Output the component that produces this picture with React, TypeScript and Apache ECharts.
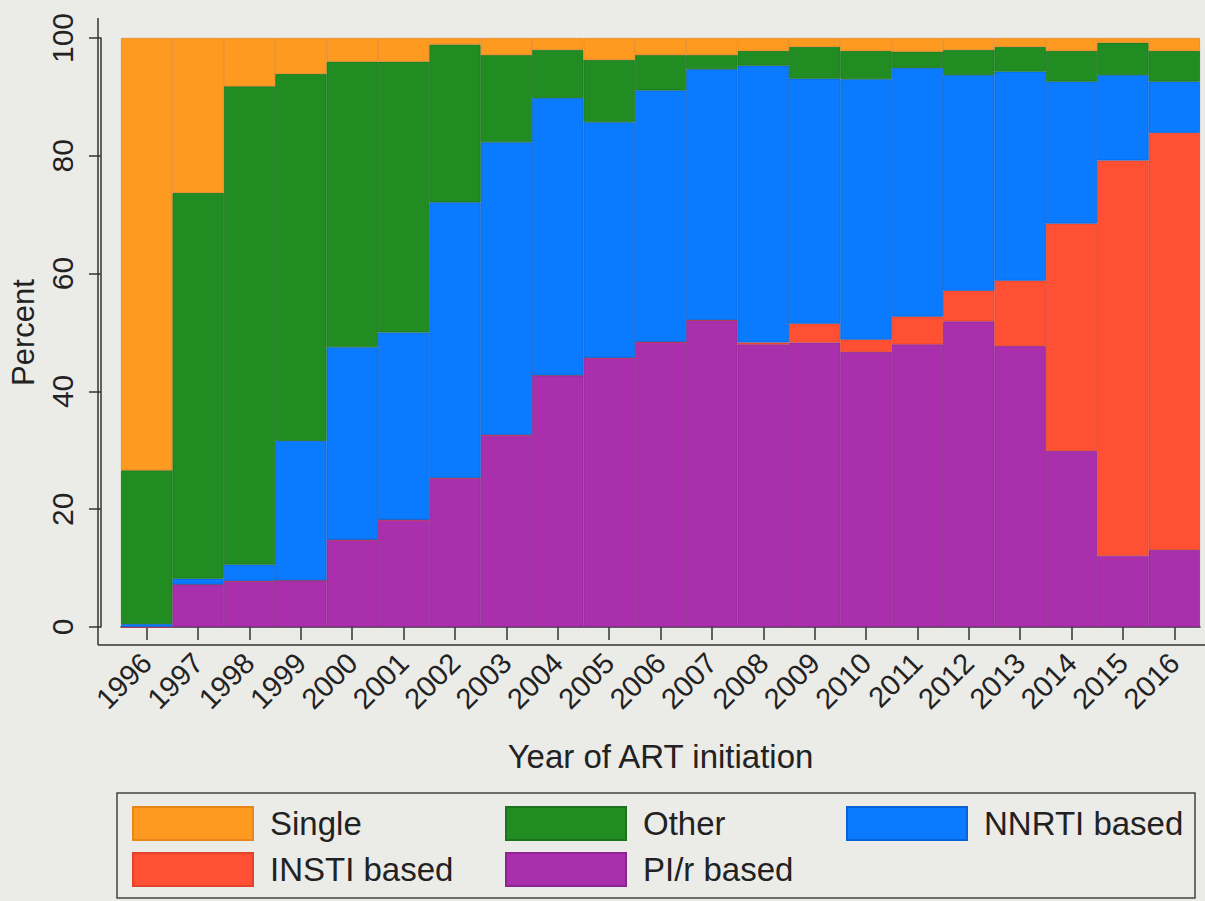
import React, { useEffect, useRef } from "react";
import * as echarts from "echarts";

const years = ["1996", "1997", "1998", "1999", "2000", "2001", "2002", "2003", "2004", "2005", "2006", "2007", "2008", "2009", "2010", "2011", "2012", "2013", "2014", "2015", "2016"];
const yTicks = [0, 20, 40, 60, 80, 100];

const piR = [0, 7.2, 7.8, 7.9, 14.8, 18.2, 25.3, 32.6, 42.7, 45.7, 48.4, 52.1, 48.0, 48.3, 46.7, 48.0, 51.9, 47.7, 29.9, 12.1, 13.1];
const insti = [0, 0, 0, 0, 0, 0, 0, 0, 0, 0, 0, 0, 0.3, 3.2, 2.1, 4.7, 5.2, 11.1, 38.6, 67.1, 70.8];
const nnrti = [0.5, 1.0, 2.8, 23.7, 32.7, 31.8, 46.8, 49.7, 47.1, 40.0, 42.7, 42.6, 47.0, 41.6, 44.2, 42.2, 36.6, 35.5, 24.1, 14.5, 8.7];
const other = [26.1, 65.5, 81.2, 62.3, 48.5, 46.0, 26.8, 14.8, 8.2, 10.6, 6.0, 2.4, 2.5, 5.4, 4.8, 2.8, 4.3, 4.2, 5.2, 5.5, 5.2];
const single = [73.4, 26.3, 8.2, 6.1, 4.0, 4.0, 1.1, 2.9, 2.0, 3.7, 2.9, 2.9, 2.2, 1.5, 2.2, 2.3, 2.0, 1.5, 2.2, 0.8, 2.2];

const FONT = "'Liberation Sans', Arial, Helvetica, sans-serif";
const TEXT = "#222222";

const seriesDefs = [
  { name: "PI/r based", data: piR, color: "#AA2FAD", border: "#8E2392" },
  { name: "INSTI based", data: insti, color: "#FF5033", border: "#E0432A" },
  { name: "NNRTI based", data: nnrti, color: "#0A7AFF", border: "#0863D6" },
  { name: "Other", data: other, color: "#218C22", border: "#1A741B" },
  { name: "Single", data: single, color: "#FF9A20", border: "#E8861A" },
];

export default function App() {
  const ref = useRef<HTMLDivElement>(null);
  useEffect(() => {
    if (!ref.current) return;
    const chart = echarts.init(ref.current, null, { renderer: "svg" });
    const legendText = { fontSize: 33, color: TEXT, fontFamily: FONT, padding: [0, 0, 0, 12] };
    const legendCommon = {
      orient: "vertical",
      top: 806,
      padding: 0,
      itemWidth: 120,
      itemHeight: 33,
      itemGap: 11,
      icon: "rect",
      textStyle: legendText,
      selectedMode: false,
    };
    chart.setOption({
      animation: false,
      backgroundColor: "#EBEBE8",
      grid: { left: 118, right: 5, top: 38, bottom: 274, containLabel: false },
      xAxis: {
        type: "category",
        data: years,
        offset: 18,
        name: "Year of ART initiation",
        nameLocation: "middle",
        nameGap: 95,
        nameTextStyle: { fontSize: 33, color: TEXT, fontFamily: FONT },
        axisLine: { show: true, lineStyle: { color: "#333", width: 1.5 } },
        axisTick: { show: true, alignWithLabel: true, length: 13, lineStyle: { color: "#333", width: 1.5 } },
        axisLabel: { rotate: 45, interval: 0, margin: 13, fontSize: 29, color: TEXT, fontFamily: FONT },
        splitLine: { show: false },
      },
      yAxis: {
        type: "value",
        min: yTicks[0],
        max: yTicks[yTicks.length - 1],
        interval: 20,
        offset: 20,
        name: "Percent",
        nameLocation: "middle",
        nameGap: 62,
        nameRotate: 90,
        nameTextStyle: { fontSize: 31, color: TEXT, fontFamily: FONT },
        axisLine: { show: true, lineStyle: { color: "#333", width: 1.5 } },
        axisTick: { show: true, length: 12, lineStyle: { color: "#333", width: 1.5 } },
        axisLabel: { rotate: 90, margin: 24, fontSize: 30, color: TEXT, fontFamily: FONT },
        splitLine: { show: false },
      },
      legend: [
        { ...legendCommon, left: 132, data: ["Single", "INSTI based"] },
        { ...legendCommon, left: 505, data: ["Other", "PI/r based"] },
        { ...legendCommon, left: 846, data: ["NNRTI based"] },
      ],
      graphic: [
        { type: "line", shape: { x1: 98, y1: 18, x2: 98, y2: 645 }, style: { stroke: "#333", lineWidth: 1.5 } },
        { type: "line", shape: { x1: 98, y1: 645, x2: 1205, y2: 645 }, style: { stroke: "#333", lineWidth: 1.5 } },
        { type: "rect", shape: { x: 117, y: 793, width: 1078, height: 105 }, style: { fill: "none", stroke: "#444", lineWidth: 1.5 } },
      ],
      series: seriesDefs.map((s) => ({
        name: s.name,
        type: "bar",
        stack: "total",
        data: s.data,
        barCategoryGap: "0%",
        itemStyle: { color: s.color, borderColor: s.border, borderWidth: 0.8 },
      })),
    });
    return () => chart.dispose();
  }, []);
  return (
    <div
      ref={ref}
      style={{ position: "absolute", left: 0, top: 0, width: 1205, height: 901 }}
    />
  );
}
